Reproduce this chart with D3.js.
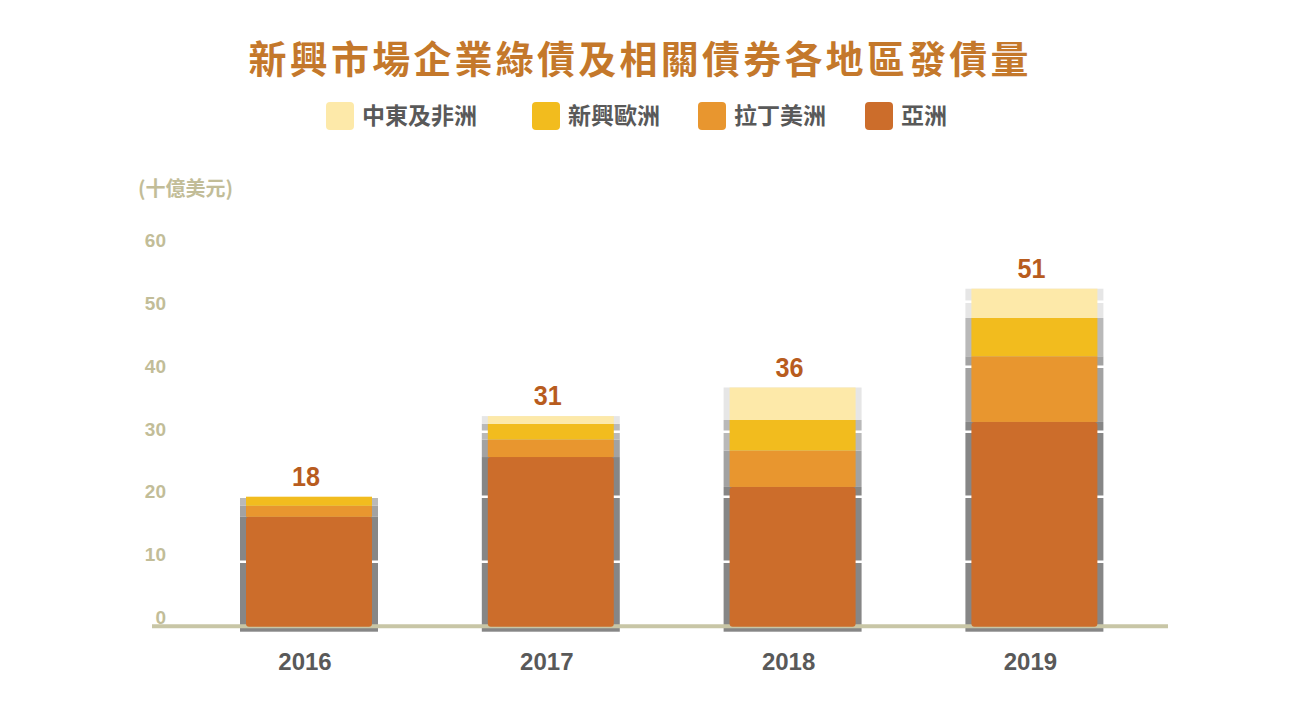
<!DOCTYPE html>
<html><head><meta charset="utf-8">
<script src="https://cdn.jsdelivr.net/npm/d3@7"></script>
<style>body{margin:0;background:#fff}svg{display:block}</style>
</head><body>
<svg id="c" width="1301" height="701"></svg>
<script>
const title = "新興市場企業綠債及相關債券各地區發債量";
const unitLabel = "(十億美元)";
const categories = ["2016", "2017", "2018", "2019"];
const seriesNames = ["亞洲", "拉丁美洲", "新興歐洲", "中東及非洲"]; // bottom -> top
const asia = [16.9, 26.1, 21.5, 31.5];
const latam = [1.7, 2.7, 5.6, 10.1];
const europe = [1.4, 2.4, 4.7, 5.9];
const mea = [0.0, 1.2, 5.0, 4.5];
const totalLabels = [18, 31, 36, 51];
const yTicks = [0, 10, 20, 30, 40, 50, 60];
const colors = ["#CC6D2B", "#E8962F", "#F2BC1E", "#FDE9A9"];
const shadowColors = ["#868686", "#a2a2a2", "#b9b9b9", "#e6e6e6"];

const svg = d3.select("#c");
const font = "'Noto Sans CJK TC','Noto Sans',sans-serif";

const x = d3.scaleBand().domain(categories).range([188.1, 1155.3]).paddingInner(0.479).paddingOuter(0.2395);
const y = d3.scaleLinear().domain([0, 60]).range([626.7, 236.7]);
const yLabel = d3.scaleLinear().domain([0, 60]).range([617, 240]);

const rows = categories.map((c, i) => ({cat: c, s0: asia[i], s1: latam[i], s2: europe[i], s3: mea[i]}));
const stack = d3.stack().keys(["s0", "s1", "s2", "s3"])(rows);

// title
svg.append("text").attr("x", 638.5).attr("y", 73).attr("text-anchor", "middle")
  .attr("font-family", font).attr("font-weight", 700).attr("font-size", 38)
  .attr("fill", "#C4782B").attr("textLength", 780).attr("lengthAdjust", "spacing").text(title);

// legend (displayed top -> bottom order)
const legendX = [326, 532, 698, 865];
const legendOrder = [3, 2, 1, 0];
legendOrder.forEach((si, k) => {
  const g = svg.append("g").attr("transform", `translate(${legendX[k]},0)`);
  g.append("rect").attr("x", 0).attr("y", 102).attr("width", 28).attr("height", 28).attr("rx", 4).attr("fill", colors[si]);
  g.append("text").attr("x", 36).attr("y", 124).attr("font-family", font).attr("font-weight", 700)
    .attr("font-size", 23).attr("fill", "#595959").text(seriesNames[si]);
});

// unit label
svg.append("text").attr("x", 138).attr("y", 196).attr("font-family", font).attr("font-weight", 700)
  .attr("font-size", 20).attr("fill", "#C2BD98").text(unitLabel);

// y tick labels
svg.append("g").selectAll("text").data(yTicks).join("text")
  .attr("x", 166).attr("y", d => yLabel(d) + 7).attr("text-anchor", "end")
  .attr("font-family", "'Liberation Sans',Arial,sans-serif").attr("font-weight", 700).attr("font-size", 19)
  .attr("fill", "#C2BD98").text(d => d);

// bar shadows
const shadowG = svg.append("g");
stack.forEach((layer, li) => {
  shadowG.selectAll(null).data(layer).join("rect")
    .attr("x", d => x(d.data.cat) - 6).attr("width", x.bandwidth() + 12)
    .attr("y", d => y(d[1])).attr("height", d => Math.max(0, y(d[0]) - y(d[1]) + (li === 0 ? 5 : 0)))
    .attr("fill", shadowColors[li]);
});

// white gridlines
svg.append("g").selectAll("line").data(yTicks.filter(t => t > 0)).join("line")
  .attr("x1", 170).attr("x2", 1168).attr("y1", d => y(d)).attr("y2", d => y(d))
  .attr("stroke", "#ffffff").attr("stroke-width", 2.5);

// baseline
svg.append("line").attr("x1", 152).attr("x2", 1168).attr("y1", y(0) - 0.5).attr("y2", y(0) - 0.5)
  .attr("stroke", "#C8C6A6").attr("stroke-width", 4);

// bars
stack.forEach((layer, li) => {
  svg.append("g").selectAll("rect").data(layer).join("rect")
    .attr("x", d => x(d.data.cat)).attr("width", x.bandwidth())
    .attr("y", d => y(d[1])).attr("height", d => Math.max(0, y(d[0]) - y(d[1])))
    .attr("rx", li === 0 ? 3 : 0)
    .attr("fill", colors[li]);
});

// totals
svg.append("g").selectAll("text").data(rows).join("text")
  .attr("x", d => x(d.cat) + x.bandwidth() / 2 - 3)
  .attr("y", (d, i) => y(d.s0 + d.s1 + d.s2 + d.s3) - 11)
  .attr("text-anchor", "middle").attr("font-family", "'Liberation Sans Narrow','Liberation Sans',sans-serif")
  .attr("font-weight", 700).attr("font-size", 28).attr("fill", "#B85C1E")
  .attr("textLength", 28).attr("lengthAdjust", "spacingAndGlyphs")
  .text((d, i) => totalLabels[i]);

// x labels
svg.append("g").selectAll("text").data(categories).join("text")
  .attr("x", d => x(d) + x.bandwidth() / 2 - 4).attr("y", 670).attr("text-anchor", "middle")
  .attr("font-family", "'Liberation Sans',Arial,sans-serif").attr("font-weight", 700).attr("font-size", 24)
  .attr("fill", "#595959").text(d => d);
</script>
</body></html>
